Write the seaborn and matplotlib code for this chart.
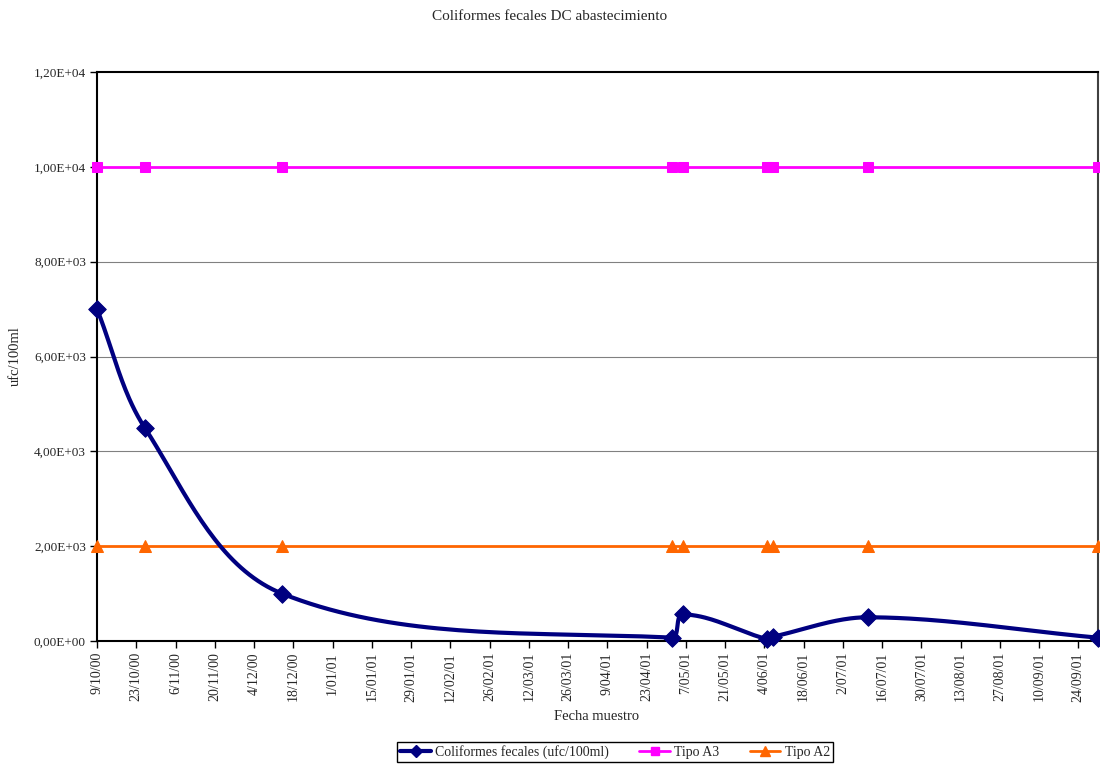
import numpy as np
import pandas as pd
import matplotlib
matplotlib.use("Agg")
import matplotlib.pyplot as plt
import matplotlib.dates as mdates
from matplotlib.lines import Line2D
import seaborn as sns

# Sampling dates and measured faecal coliforms (ufc/100ml)
sample_dates = ["2000-10-09", "2000-10-26", "2000-12-14", "2001-05-02", "2001-05-06",
                "2001-06-05", "2001-06-07", "2001-07-11", "2001-10-01"]
coliformes = [7000, 4500, 1000, 70, 560, 40, 90, 500, 70]
# Quality limits evaluated on the same dates
tipo_a3 = [10000, 10000, 10000, 10000, 10000, 10000, 10000, 10000, 10000]
tipo_a2 = [2000, 2000, 2000, 2000, 2000, 2000, 2000, 2000, 2000]

x_tick_labels = ["9/10/00", "23/10/00", "6/11/00", "20/11/00", "4/12/00", "18/12/00",
                 "1/01/01", "15/01/01", "29/01/01", "12/02/01", "26/02/01", "12/03/01",
                 "26/03/01", "9/04/01", "23/04/01", "7/05/01", "21/05/01", "4/06/01",
                 "18/06/01", "2/07/01", "16/07/01", "30/07/01", "13/08/01", "27/08/01",
                 "10/09/01", "24/09/01"]
y_ticks = [0, 2000, 4000, 6000, 8000, 10000, 12000]
y_tick_labels = ["0,00E+00", "2,00E+03", "4,00E+03", "6,00E+03", "8,00E+03",
                 "1,00E+04", "1,20E+04"]

title = "Coliformes fecales DC abastecimiento"
x_label = "Fecha muestro"
y_label = "ufc/100ml"
series_names = ["Coliformes fecales (ufc/100ml)", "Tipo A3", "Tipo A2"]

NAVY = "#000080"
MAGENTA = "#FF00FF"
ORANGE = "#FF6600"

sns.set_style("white")
plt.rcParams["font.family"] = ["Liberation Serif", "DejaVu Serif"]

xd = mdates.date2num(pd.to_datetime(sample_dates))
xt = mdates.date2num(pd.to_datetime(x_tick_labels, format="%d/%m/%y"))
x0, x1 = xd[0], xd[-1]
y_max = 12000

fig = plt.figure(figsize=(11, 7.65), dpi=100)
ax = fig.add_axes([97 / 1100, 1 - 641 / 765, 1001 / 1100, 569 / 765])


def smooth_curve(xs, ys, width=1001.0, height=569.0, n=40):
    """Bezier smoothing of a polyline, computed in screen-like proportions."""
    P = np.column_stack([(np.asarray(xs) - x0) / (x1 - x0) * width,
                         np.asarray(ys, dtype=float) / y_max * height])
    pts = []
    t = np.linspace(0, 1, n)[:, None]
    for i in range(len(P) - 1):
        p0, p3 = P[i], P[i + 1]
        prev = P[i - 1] if i > 0 else P[i]
        nxt = P[i + 2] if i + 2 < len(P) else P[i + 1]
        seg = np.linalg.norm(p3 - p0)
        d0 = P[i + 1] - prev
        d0 = d0 / np.linalg.norm(d0)
        d1 = nxt - P[i]
        d1 = d1 / np.linalg.norm(d1)
        c1 = p0 + d0 * seg / 3
        c2 = p3 - d1 * seg / 3
        b = ((1 - t) ** 3) * p0 + 3 * ((1 - t) ** 2) * t * c1 + 3 * (1 - t) * t ** 2 * c2 + t ** 3 * p3
        pts.append(b if i == 0 else b[1:])
    B = np.vstack(pts)
    return B[:, 0] / width * (x1 - x0) + x0, B[:, 1] / height * y_max


# Gridlines
for yv in y_ticks[1:-1]:
    ax.axhline(yv, color="#808080", lw=0.8, zorder=0)

# Limit lines
sns.lineplot(x=xd, y=tipo_a3, ax=ax, color=MAGENTA, lw=2, marker="s", markersize=7,
             markeredgecolor=MAGENTA, zorder=3)
sns.lineplot(x=xd, y=tipo_a2, ax=ax, color=ORANGE, lw=2, marker="^", markersize=8,
             markeredgecolor=ORANGE, zorder=3)

# Smoothed coliform series
sx, sy = smooth_curve(xd, coliformes)
sns.lineplot(x=sx, y=sy, ax=ax, color=NAVY, lw=3, sort=False, estimator=None, zorder=4)
sns.scatterplot(x=xd, y=coliformes, ax=ax, color=NAVY, marker="D", s=80,
                edgecolor=NAVY, zorder=5, clip_on=False)

ax.set_xlim(x0, x1)
ax.set_ylim(0, y_max)
ax.set_yticks(y_ticks)
ax.set_yticklabels(y_tick_labels, fontsize=9.5)
ax.set_xticks(xt)
ax.set_xticklabels(x_tick_labels, rotation=90, fontsize=10)
ax.tick_params(axis="both", direction="out", length=5, width=1, color="black", pad=3,
               left=True, bottom=True)
for s in ["left", "bottom", "top"]:
    ax.spines[s].set_color("black")
    ax.spines[s].set_linewidth(1.5)
ax.spines["right"].set_color("#404040")
ax.spines["right"].set_linewidth(1.5)
for c in ax.collections + ax.lines:
    c.set_clip_on(False)
ax.set_xlabel("")
ax.set_ylabel("")

fig.text(0.5, 1 - 17 / 765, title, ha="center", va="center", fontsize=11)
fig.text(597 / 1100, 1 - 717 / 765, x_label, ha="center", va="center", fontsize=10.5)
fig.text(15 / 1100, 1 - 356 / 765, y_label, ha="center", va="center", rotation=90, fontsize=10.5)

handles = [
    Line2D([], [], color=NAVY, lw=3, marker="D", markersize=6),
    Line2D([], [], color=MAGENTA, lw=2, marker="s", markersize=6),
    Line2D([], [], color=ORANGE, lw=2, marker="^", markersize=7),
]
leg = fig.legend(handles, series_names, loc="center", bbox_to_anchor=(615 / 1100, 1 - 752 / 765),
                 ncol=3, fontsize=10, frameon=True, fancybox=False, edgecolor="black",
                 handlelength=2.2, handletextpad=0.3, columnspacing=2.2,
                 borderpad=0.25, framealpha=1)
leg.get_frame().set_linewidth(1)

fig.savefig("out.png", dpi=100)
